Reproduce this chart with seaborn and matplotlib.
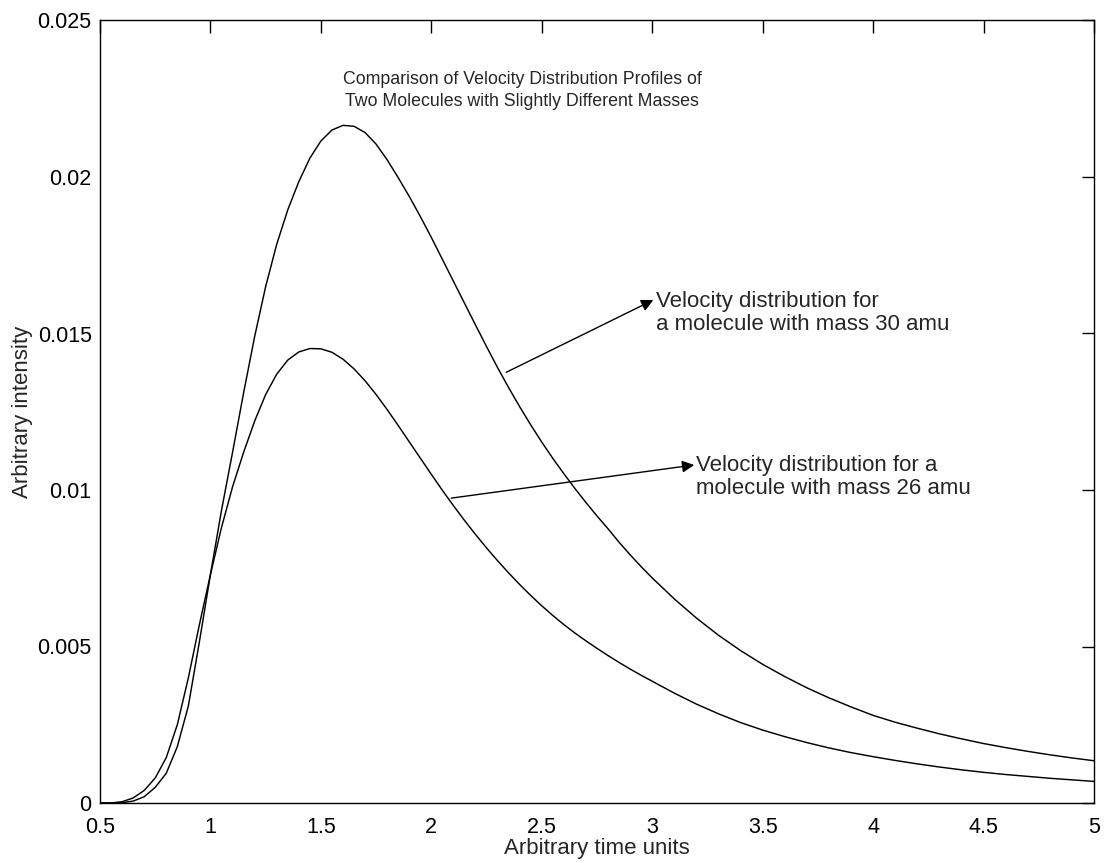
import matplotlib
matplotlib.use("Agg")
import matplotlib.pyplot as plt
import pandas as pd
import seaborn as sns

# Arrival time grid (arbitrary units)
time_units = [0.5, 0.55, 0.6, 0.65, 0.7, 0.75, 0.8, 0.85, 0.9, 0.95,
              1.0, 1.05, 1.1, 1.15, 1.2, 1.25, 1.3, 1.35, 1.4, 1.45,
              1.5, 1.55, 1.6, 1.65, 1.7, 1.75, 1.8, 1.85, 1.9, 1.95,
              2.0, 2.05, 2.1, 2.15, 2.2, 2.25, 2.3, 2.35, 2.4, 2.45,
              2.5, 2.55, 2.6, 2.65, 2.7, 2.75, 2.8, 2.85, 2.9, 2.95,
              3.0, 3.1, 3.2, 3.3, 3.4, 3.5, 3.6, 3.7, 3.8, 3.9,
              4.0, 4.1, 4.2, 4.3, 4.4, 4.5, 4.6, 4.7, 4.8, 4.9, 5.0]

# Intensity profile of the 30 amu molecule
intensity_30amu = [0.0, 0.0, 0.00001, 0.00006, 0.0002, 0.0005, 0.00095, 0.0018, 0.0031, 0.00515,
                   0.0073, 0.00935, 0.0112, 0.0131, 0.0149, 0.0165, 0.01785, 0.01895, 0.01985, 0.0206,
                   0.02115, 0.0215, 0.02165, 0.02162, 0.02142, 0.02105, 0.02055, 0.01998, 0.01938, 0.01874,
                   0.01807, 0.01737, 0.01667, 0.01597, 0.01527, 0.01458, 0.01391, 0.01327, 0.01266, 0.01208,
                   0.01153, 0.01101, 0.01052, 0.01005, 0.0096, 0.00917, 0.00876, 0.00833, 0.00793, 0.00755,
                   0.00719, 0.00652, 0.00591, 0.00536, 0.00487, 0.00443, 0.00404, 0.00368, 0.00336, 0.00307,
                   0.0028, 0.00258, 0.00239, 0.00221, 0.00205, 0.0019, 0.00177, 0.00165, 0.00154, 0.00144, 0.00135]

# Intensity profile of the 26 amu molecule
intensity_26amu = [0.0, 0.0, 0.00004, 0.00016, 0.0004, 0.0008, 0.00145, 0.0025, 0.0040, 0.0057,
                   0.0073, 0.0088, 0.0101, 0.0112, 0.0122, 0.01305, 0.0137, 0.01415, 0.01441, 0.01452,
                   0.01451, 0.0144, 0.01418, 0.01387, 0.01349, 0.01305, 0.01257, 0.01206, 0.01154, 0.01102,
                   0.0105, 0.00999, 0.0095, 0.00903, 0.00858, 0.00815, 0.00774, 0.00735, 0.00698, 0.00663,
                   0.0063, 0.00599, 0.0057, 0.00543, 0.00518, 0.00494, 0.00471, 0.00449, 0.00428, 0.00408,
                   0.00389, 0.00351, 0.00316, 0.00285, 0.00257, 0.00233, 0.00212, 0.00193, 0.00176, 0.00161,
                   0.00148, 0.00136, 0.00125, 0.00115, 0.00106, 0.00098, 0.00091, 0.00085, 0.00079, 0.00074, 0.00069]

x_ticks = [0.5, 1, 1.5, 2, 2.5, 3, 3.5, 4, 4.5, 5]
x_tick_labels = ["0.5", "1", "1.5", "2", "2.5", "3", "3.5", "4", "4.5", "5"]
y_ticks = [0, 0.005, 0.01, 0.015, 0.02, 0.025]
y_tick_labels = ["0", "0.005", "0.01", "0.015", "0.02", "0.025"]

title_text = "Comparison of Velocity Distribution Profiles of\nTwo Molecules with Slightly Different Masses"
label_30 = "Velocity distribution for\na molecule with mass 30 amu"
label_26 = "Velocity distribution for a\nmolecule with mass 26 amu"

profiles = pd.DataFrame({
    "t": time_units * 2,
    "intensity": intensity_30amu + intensity_26amu,
    "mass": ["30 amu"] * len(time_units) + ["26 amu"] * len(time_units),
})

sns.set_theme(style="white")
plt.rcParams["font.family"] = ["Liberation Sans", "DejaVu Sans"]
plt.rcParams["font.size"] = 15.5

fig = plt.figure(figsize=(11.05, 8.63), dpi=100)
ax = fig.add_axes([100 / 1105, 60 / 863, 994 / 1105, 782.5 / 863])

sns.lineplot(data=profiles, x="t", y="intensity", units="mass", estimator=None,
             color="black", linewidth=1.05, ax=ax, legend=False)

ax.set_xlim(0.5, 5)
ax.set_ylim(0, 0.025)
ax.set_xticks(x_ticks)
ax.set_xticklabels(x_tick_labels)
ax.set_yticks(y_ticks)
ax.set_yticklabels(y_tick_labels)
ax.tick_params(direction="in", length=9, width=1, top=True, right=True,
               labelsize=15.5, colors="black")
ax.tick_params(axis="x", pad=10)
ax.tick_params(axis="y", pad=6)
for side in ax.spines.values():
    side.set_color("black")
    side.set_linewidth(1.0)
    side.set_visible(True)

ax.set_xlabel("Arbitrary time units", fontsize=16, labelpad=0)
ax.set_ylabel("Arbitrary intensity", fontsize=16, labelpad=3)

ax.text(2.412, 0.02276, title_text, ha="center", va="center",
        fontsize=12.8, linespacing=1.4)

arrow_style = dict(arrowstyle="-|>", color="black", lw=1.0,
                   mutation_scale=18, shrinkA=0, shrinkB=0)

# 30 amu annotation: arrow from the curve to the label
ax.annotate("", xy=(3.005, 0.01607), xytext=(2.339, 0.01376), arrowprops=arrow_style)
ax.text(3.015, 0.01565, label_30, ha="left", va="center",
        fontsize=16, linespacing=1.13)

# 26 amu annotation
ax.annotate("", xy=(3.19, 0.0108), xytext=(2.09, 0.00974), arrowprops=arrow_style)
ax.text(3.2, 0.01043, label_26, ha="left", va="center",
        fontsize=16, linespacing=1.13)

fig.savefig("out.png", dpi=100, facecolor="white")
